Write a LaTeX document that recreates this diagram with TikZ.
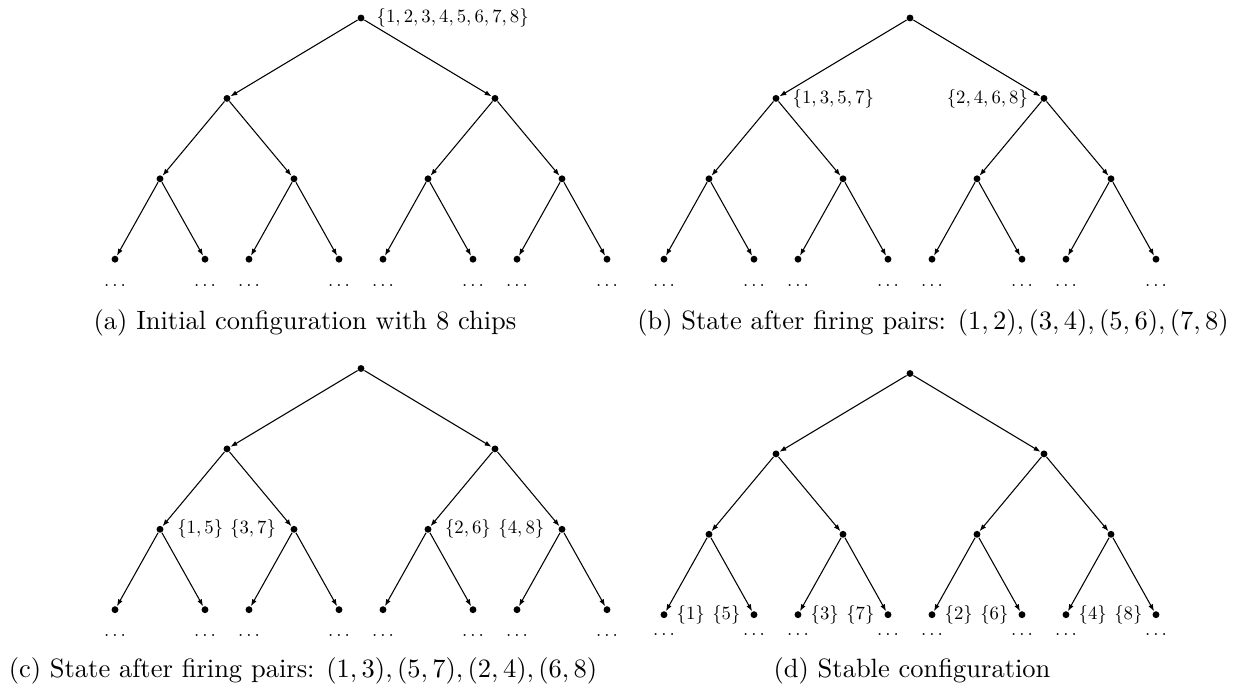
\documentclass[tikz,border=0pt]{standalone}
\usetikzlibrary{arrows.meta}
\tikzset{
  vtx/.style={circle,fill=black,inner sep=0pt,minimum size=2.6pt},
  edge/.style={-{Latex[length=2.6pt,width=1.9pt]},line width=0.4pt},
  lab/.style={inner sep=0pt},
  dotsnode/.style={inner sep=0pt,anchor=base},
  captext/.style={inner sep=0pt,anchor=base},
}
\newcommand{\smalllab}[1]{\scalebox{0.707}{$#1$}}
% #1 prefix, #2 root x, #3 root y, #4 leaf-to-dots distance
\newcommand{\chiptree}[4]{%
  \node[vtx] (#1) at (#2,#3) {};
  \node[vtx] (#1l) at (#2-134,#3+80.4) {};
  \node[vtx] (#1r) at (#2+134,#3+80.4) {};
  \node[vtx] (#1ll) at (#2-201,#3+160.8) {};
  \node[vtx] (#1lr) at (#2-67,#3+160.8) {};
  \node[vtx] (#1rl) at (#2+67,#3+160.8) {};
  \node[vtx] (#1rr) at (#2+201,#3+160.8) {};
  \node[vtx] (#1lll) at (#2-246,#3+241.2) {};
  \node[vtx] (#1llr) at (#2-156,#3+241.2) {};
  \node[vtx] (#1lrl) at (#2-112,#3+241.2) {};
  \node[vtx] (#1lrr) at (#2-22,#3+241.2) {};
  \node[vtx] (#1rll) at (#2+22,#3+241.2) {};
  \node[vtx] (#1rlr) at (#2+112,#3+241.2) {};
  \node[vtx] (#1rrl) at (#2+156,#3+241.2) {};
  \node[vtx] (#1rrr) at (#2+246,#3+241.2) {};
  \draw[edge] (#1) -- (#1l);
  \draw[edge] (#1) -- (#1r);
  \draw[edge] (#1l) -- (#1ll);
  \draw[edge] (#1l) -- (#1lr);
  \draw[edge] (#1r) -- (#1rl);
  \draw[edge] (#1r) -- (#1rr);
  \draw[edge] (#1ll) -- (#1lll);
  \draw[edge] (#1ll) -- (#1llr);
  \draw[edge] (#1lr) -- (#1lrl);
  \draw[edge] (#1lr) -- (#1lrr);
  \draw[edge] (#1rl) -- (#1rll);
  \draw[edge] (#1rl) -- (#1rlr);
  \draw[edge] (#1rr) -- (#1rrl);
  \draw[edge] (#1rr) -- (#1rrr);
  \foreach \n in {lll,llr,lrl,lrr,rll,rlr,rrl,rrr}
    \node[dotsnode] (#1\n-d) at ([yshift=-#4]#1\n) {\smalllab{\ldots}};
}
\begin{document}
\begin{tikzpicture}[x=0.3774pt,y=-0.3774pt]
  \useasboundingbox (0,0) rectangle (1239,684);
  % (a)
  \chiptree{a}{361}{18}{10.3pt}
  \node[lab,anchor=west] (alab) at (376.2,18) {\smalllab{\{1,2,3,4,5,6,7,8\}}};
  \node[captext] (capa) at (305,330) {(a) Initial configuration with 8 chips};
  % (b)
  \chiptree{b}{910}{18}{10.3pt}
  \node[lab,anchor=west] (blab1) at (792.2,98.4) {\smalllab{\{1,3,5,7\}}};
  \node[lab,anchor=east] (blab2) at (1028.5,98.4) {\smalllab{\{2,4,6,8\}}};
  \node[captext] (capb) at (933,330) {(b) State after firing pairs: $(1,2),(3,4),(5,6),(7,8)$};
  % (c)
  \chiptree{c}{361}{368.5}{10.3pt}
  \node[lab,anchor=west] (clab1) at (176.8,529.3) {\smalllab{\{1,5\}}};
  \node[lab,anchor=east] (clab2) at (276.5,529.3) {\smalllab{\{3,7\}}};
  \node[lab,anchor=west] (clab3) at (444.5,529.3) {\smalllab{\{2,6\}}};
  \node[lab,anchor=east] (clab4) at (544.8,529.3) {\smalllab{\{4,8\}}};
  \node[captext] (capc) at (303,678) {(c) State after firing pairs: $(1,3),(5,7),(2,4),(6,8)$};
  % (d)
  \chiptree{d}{910}{373.5}{8.0pt}
  \node[lab,anchor=west] (dlab1) at (676.2,614.7) {\smalllab{\{1\}}};
  \node[lab,anchor=east] (dlab2) at (741,614.7) {\smalllab{\{5\}}};
  \node[lab,anchor=west] (dlab3) at (810.2,614.7) {\smalllab{\{3\}}};
  \node[lab,anchor=east] (dlab4) at (875,614.7) {\smalllab{\{7\}}};
  \node[lab,anchor=west] (dlab5) at (944.2,614.7) {\smalllab{\{2\}}};
  \node[lab,anchor=east] (dlab6) at (1009,614.7) {\smalllab{\{6\}}};
  \node[lab,anchor=west] (dlab7) at (1078.2,614.7) {\smalllab{\{4\}}};
  \node[lab,anchor=east] (dlab8) at (1143,614.7) {\smalllab{\{8\}}};
  \node[captext] (capd) at (912,678) {(d) Stable configuration};
\end{tikzpicture}
\end{document}
